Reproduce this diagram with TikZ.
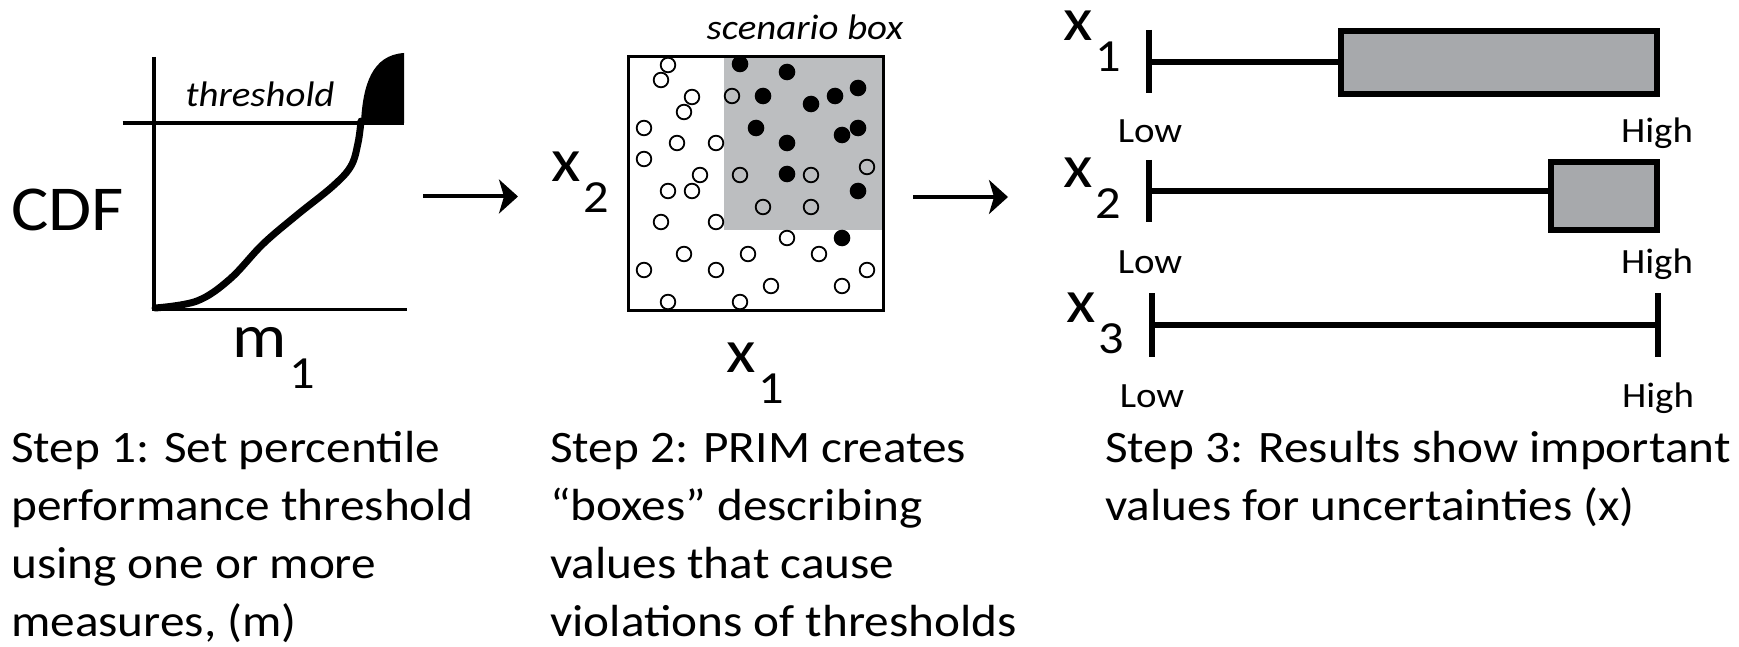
\documentclass[tikz,border=0pt]{standalone}
\usepackage{fontspec}
\setmainfont{Carlito}[FakeStretch=1.095]
\usetikzlibrary{positioning, arrows.meta}
\definecolor{boxgray}{RGB}{188,190,192}
\definecolor{bargray}{RGB}{167,169,172}
\newcommand\varsub[2]{{\fontsize{62}{62}\selectfont #1}\kern3pt\raisebox{-31pt}{\fontsize{46}{46}\selectfont #2}}

\begin{document}
\begin{tikzpicture}[x=1pt, y=-1pt,
  axis/.style={line width=3.3pt},
  cdfline/.style={line width=7pt, line cap=round},
  flow/.style={-{Stealth[length=19pt, width=34pt, inset=5pt]}, line width=4pt},
  caption/.style={anchor=base west, align=left, inner sep=0pt,
                  font=\fontsize{45}{58}\selectfont},
  axisLabel/.style={anchor=base west, inner sep=0pt},
  tag/.style={anchor=base, inner sep=0pt, font=\fontsize{35.5}{35.5}\selectfont\itshape},
  endLabel/.style={anchor=base, inner sep=0pt, font=\fontsize{35.5}{35.5}\selectfont},
  ptOpen/.style={draw, line width=1.8pt},
  rangeline/.style={line width=6pt},
  hitbar/.style={draw, fill=bargray, line width=6pt},
]
\useasboundingbox (0,0) rectangle (1739,647);

% --- Step 1: CDF with threshold ---
\coordinate (orig) at (154,309.5);
\draw[axis] (154,57) -- (orig) -- (407,309.5);
\draw[axis] (122.5,123) -- (404,123);
\fill (361,122) .. controls (363,85) and (372,55) .. (404,53) -- (404,123) -- cycle;
\draw[cdfline] plot[smooth, tension=0.6] coordinates
  {(155,308) (197,301) (230,279) (263,244) (297,215) (333,186) (351,166) (358,143) (361,121)};
\node[tag] (thr) at (260,107) {threshold};
\node[axisLabel, font=\fontsize{64}{64}\selectfont] (cdf) at (11,230) {CDF};
\node[axisLabel] (mlab) at (232,357) {\varsub{m}{1}};

% --- Arrows between steps ---
\coordinate (arr1s) at (423,196.5);
\coordinate (arr1e) at (518,196.5);
\coordinate (arr2s) at (913,197);
\coordinate (arr2e) at (1008,197);
\draw[flow] (arr1s) -- (arr1e);
\draw[flow] (arr2s) -- (arr2e);

% --- Step 2: scatter with scenario box ---
\fill[boxgray] (724,57) rectangle (883,230);
\foreach \px/\py in {668/65, 661/80, 692/97, 684/112, 732/96, 644/128, 677/143,
    716/143, 644/159, 700/175, 668/191, 692/191, 740/175, 811/175, 867/167,
    763/207, 811/207, 661/222, 716/222, 787/238, 684/254, 748/254, 819/254,
    644/270, 716/270, 867/270, 771/286, 842/286, 668/302, 740/302}
  \draw[ptOpen] (\px,\py) circle (7.3);
\foreach \px/\py in {740/64, 787/72, 763/96, 811/104, 835/96, 858/88, 756/128,
    787/143, 842/135, 858/128, 787/174, 858/191, 842/238}
  \fill (\px,\py) circle (8.3);
\draw[line width=3pt] (628,57) rectangle (883,310);
\node[tag] (scen) at (805,40) {scenario box};
\node[axisLabel] (x2lab) at (551,182) {\varsub{x}{2}};
\node[axisLabel] (x1lab) at (726,372) {\varsub{x}{1}};

% --- Step 3: ranges of the uncertainties ---
\node[axisLabel] (r1lab) at (1063,41) {\varsub{x}{1}};
\draw[rangeline] (1149,30) -- (1149,93);
\draw[rangeline] (1149,62) -- (1341,62);
\draw[hitbar] (1341,31) rectangle (1657,94);
\node[endLabel] (low1) at (1150,143) {Low};
\node[endLabel] (high1) at (1657,143) {High};

\node[axisLabel] (r2lab) at (1063,188) {\varsub{x}{2}};
\draw[rangeline] (1149,160) -- (1149,222);
\draw[rangeline] (1149,191) -- (1551,191);
\draw[hitbar] (1551,162) rectangle (1657,230);
\node[endLabel] (low2) at (1150,273) {Low};
\node[endLabel] (high2) at (1657,273) {High};

\node[axisLabel] (r3lab) at (1066,322) {\varsub{x}{3}};
\draw[rangeline] (1152,293) -- (1152,357);
\draw[rangeline] (1658,293) -- (1658,357);
\draw[rangeline] (1152,325) -- (1658,325);
\node[endLabel] (low3) at (1152,407) {Low};
\node[endLabel] (high3) at (1658,407) {High};

% --- Captions (base = last line) ---
\node[caption] (step1) at (11,636) {Step 1: Set percentile\\performance threshold\\using one or more\\measures, (m)};
\node[caption] (step2) at (550,636) {Step 2: PRIM creates\\``boxes'' describing\\values that cause\\violations of thresholds};
\node[caption] (step3) at (1105,520) {Step 3: Results show important\\values for uncertainties (x)};
\end{tikzpicture}
\end{document}
